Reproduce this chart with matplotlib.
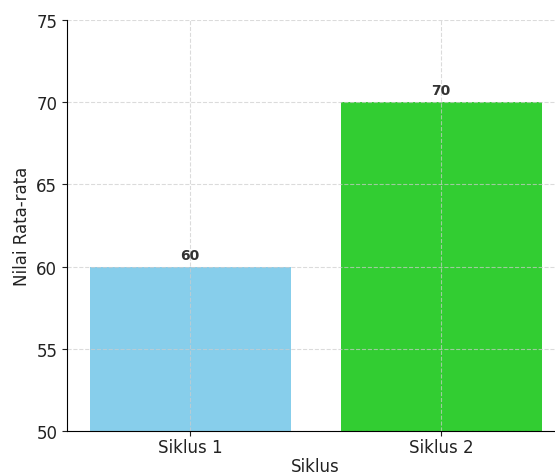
import matplotlib
matplotlib.use("Agg")
import matplotlib.pyplot as plt

siklus = ["Siklus 1", "Siklus 2"]
nilai = [60, 70]
warna = ["skyblue", "limegreen"]

fig = plt.figure(figsize=(5.55, 4.77), dpi=100)
ax = fig.add_axes([0.1207, 0.0943, 0.896, 0.862])

bars = ax.bar(siklus, nilai, color=warna, width=0.8)
for b, v in zip(bars, nilai):
    ax.text(b.get_x() + b.get_width() / 2, v + 0.3, str(v),
            ha="center", va="bottom", fontsize=10, fontweight="bold", color="#333333")

ax.set_ylim(50, 75)
ax.set_xlim(-0.49, 1.49)
ax.set_xlabel("Siklus", fontsize=12, color="#222222", labelpad=1)
ax.set_ylabel("Nilai Rata-rata", fontsize=12, color="#222222")
ax.tick_params(labelsize=12, colors="#222222")
ax.tick_params(axis="x", pad=1.5)
ax.grid(True, linestyle="--", color="#cccccc", alpha=0.7)
ax.spines["top"].set_visible(False)
ax.spines["right"].set_visible(False)

fig.savefig("out.png", dpi=100)
